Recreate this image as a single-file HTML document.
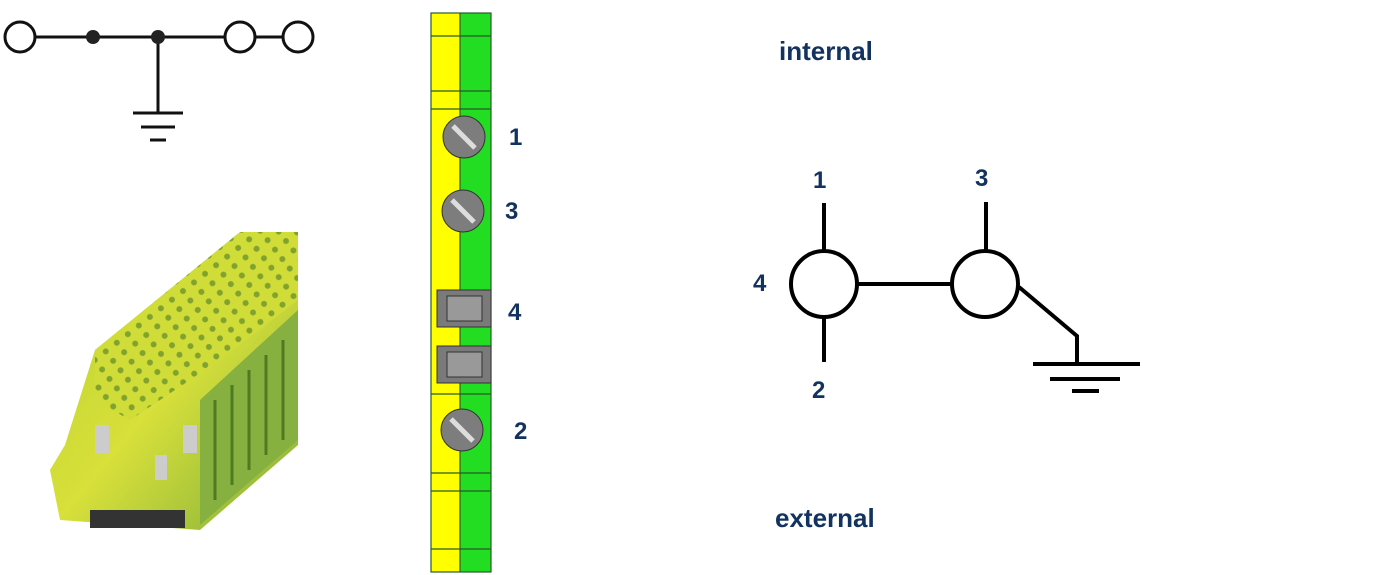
<!DOCTYPE html>
<html><head><style>
body{margin:0;width:1400px;height:575px;background:#fff;overflow:hidden;position:relative;font-family:"Liberation Sans",sans-serif}
.l{position:absolute;color:#12325f;font-weight:bold;font-size:24px}
</style></head><body>
<svg width="1400" height="575" style="position:absolute;left:0;top:0">
<defs>
<linearGradient id="g" x1="0" y1="0" x2="1" y2="1">
<stop offset="0" stop-color="#b8d030"/><stop offset="0.5" stop-color="#d8e03a"/><stop offset="1" stop-color="#7fae3a"/></linearGradient>
<pattern id="h" width="14" height="12" patternUnits="userSpaceOnUse" patternTransform="rotate(-38)">
<circle cx="7" cy="6" r="3" fill="#5f8a2a"/></pattern>
</defs>
<g stroke="#111" stroke-width="3" fill="none">
<line x1="35" y1="37" x2="225" y2="37"/><line x1="255" y1="37" x2="283" y2="37"/>
<circle cx="20" cy="37" r="15" fill="#fff"/><circle cx="240" cy="37" r="15" fill="#fff"/><circle cx="298" cy="37" r="15" fill="#fff"/>
<line x1="158" y1="37" x2="158" y2="113"/>
<line x1="133" y1="113" x2="183" y2="113"/><line x1="141" y1="127" x2="175" y2="127"/><line x1="150" y1="140" x2="166" y2="140"/>
</g>
<circle cx="93" cy="37" r="7" fill="#222"/><circle cx="158" cy="37" r="7" fill="#222"/>
<polygon points="95,350 240,232 298,232 298,445 200,530 60,520 50,470 65,445" fill="url(#g)"/>
<polygon points="95,350 240,232 298,232 298,300 220,360 130,420 95,400" fill="#d0dc38"/>
<polygon points="95,350 240,232 298,232 298,300 220,360 130,420 95,400" fill="url(#h)" opacity="0.7"/>
<polygon points="200,400 298,310 298,440 200,525" fill="#86b040"/>
<g stroke="#4f7a22" stroke-width="3">
<line x1="215" y1="400" x2="215" y2="500"/><line x1="232" y1="385" x2="232" y2="485"/><line x1="249" y1="370" x2="249" y2="470"/><line x1="266" y1="355" x2="266" y2="455"/><line x1="283" y1="340" x2="283" y2="440"/>
</g>
<polygon points="90,510 185,510 185,528 90,528" fill="#333"/>
<rect x="95" y="425" width="14" height="28" fill="#ccc"/><rect x="183" y="425" width="14" height="28" fill="#ccc"/><rect x="155" y="455" width="12" height="25" fill="#ccc"/>
<rect x="431" y="13" width="29" height="559" fill="#ffff00"/>
<rect x="460" y="13" width="31" height="559" fill="#22dd22"/>
<g stroke="#2a5a2a" stroke-width="1.2" fill="none">
<rect x="431" y="13" width="60" height="559"/>
<line x1="460" y1="13" x2="460" y2="572"/>
<line x1="431" y1="36" x2="491" y2="36"/><line x1="431" y1="91" x2="491" y2="91"/><line x1="431" y1="109" x2="491" y2="109"/>
<line x1="431" y1="394" x2="491" y2="394"/><line x1="431" y1="473" x2="491" y2="473"/><line x1="431" y1="491" x2="491" y2="491"/><line x1="431" y1="549" x2="491" y2="549"/>
</g>
<g stroke="#333" stroke-width="1">
<rect x="437" y="290" width="54" height="37" fill="#7a7a7a"/><rect x="447" y="296" width="35" height="25" fill="#999"/>
<rect x="437" y="346" width="54" height="37" fill="#7a7a7a"/><rect x="447" y="352" width="35" height="25" fill="#999"/>
</g>
<g stroke="#333" stroke-width="1">
<circle cx="464" cy="137" r="21" fill="#7d7d7d"/><circle cx="463" cy="211" r="21" fill="#7d7d7d"/><circle cx="462" cy="430" r="21" fill="#7d7d7d"/>
</g>
<g stroke="#ddd" stroke-width="5">
<line x1="453" y1="126" x2="475" y2="148"/><line x1="452" y1="200" x2="474" y2="222"/><line x1="451" y1="419" x2="473" y2="441"/>
</g>
<g stroke="#000" stroke-width="4" fill="none">
<line x1="824" y1="203" x2="824" y2="250"/><line x1="824" y1="318" x2="824" y2="362"/>
<line x1="858" y1="284" x2="951" y2="284"/>
<line x1="986" y1="202" x2="986" y2="250"/>
<circle cx="824" cy="284" r="33"/><circle cx="985" cy="284" r="33"/>
<polyline points="1019,287 1077,336 1077,364"/>
<line x1="1033" y1="364" x2="1140" y2="364"/><line x1="1050" y1="379" x2="1120" y2="379"/><line x1="1072" y1="391" x2="1099" y2="391"/>
</g>
</svg>
<div class="l" style="left:509px;top:124px">1</div>
<div class="l" style="left:505px;top:198px">3</div>
<div class="l" style="left:508px;top:299px">4</div>
<div class="l" style="left:514px;top:418px">2</div>
<div class="l" style="left:779px;top:36px;font-size:26px">internal</div>
<div class="l" style="left:775px;top:503px;font-size:26px">external</div>
<div class="l" style="left:813px;top:167px">1</div>
<div class="l" style="left:975px;top:165px">3</div>
<div class="l" style="left:753px;top:270px">4</div>
<div class="l" style="left:812px;top:377px">2</div>
</body></html>
